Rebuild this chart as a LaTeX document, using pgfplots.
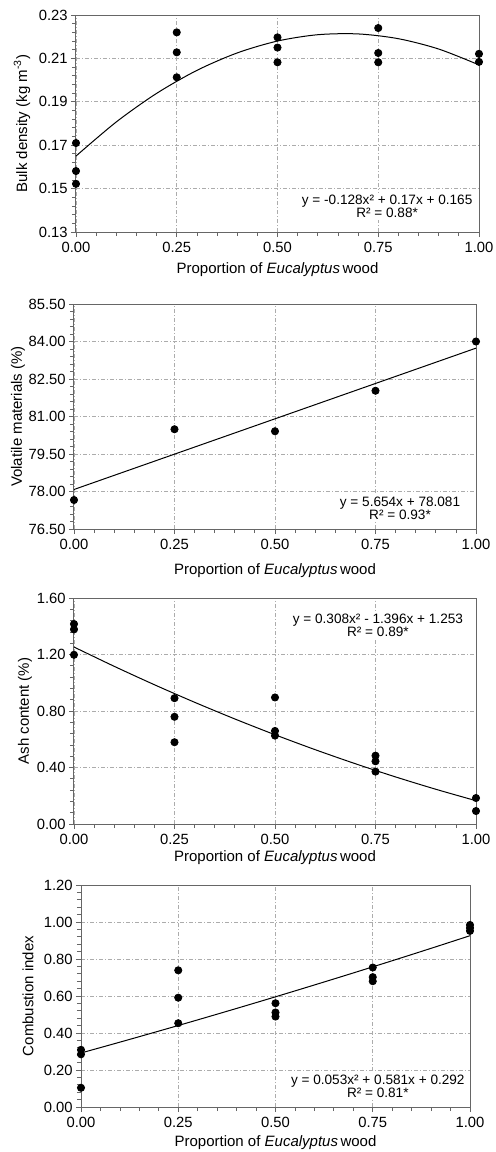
\documentclass[border=0pt]{standalone}
\usepackage{fontspec}
\setmainfont{Liberation Sans}
\usepackage{pgfplots}
\pgfplotsset{compat=1.18}
\begin{document}
\fontsize{7.5}{9}\selectfont
\begin{tikzpicture}
\path[use as bounding box] (0pt,0pt) rectangle (248pt,-576pt);
\tikzset{eq/.style={fill=white, inner sep=1pt, align=center, font=\fontsize{6.8}{6.5}\selectfont}}
\pgfplotsset{
  every axis/.append style={
    scale only axis,
    clip=false,
    anchor=south west,
    xmin=0, xmax=1,
    xtick={0,0.25,0.5,0.75,1},
    minor x tick num=4,
    minor y tick num=4,
    tick align=outside,
    xtick pos=bottom, ytick pos=left,
    major tick length=2.5pt, minor tick length=2pt,
    every tick/.style={gray!80!black, line width=0.4pt},
    axis line style={gray!80!black, line width=0.5pt},
    grid=major,
    major grid style={gray!65, line width=0.4pt, dash pattern=on 2pt off 1pt on 0.5pt off 1pt},
    ticklabel style={font=\fontsize{7.4}{8}\selectfont},
    yticklabel style={xshift=1pt},
    /pgf/number format/assume math mode=true,
    xticklabel style={/pgf/number format/.cd, fixed, fixed zerofill, precision=2},
    yticklabel style={/pgf/number format/.cd, fixed, fixed zerofill, precision=2},
  },
  pts/.style={only marks, mark=*, mark size=1.8pt, color=black},
  fit/.style={black, line width=0.5pt, no marks, smooth},
}
% Panel 1
\begin{axis}[at={(38pt,-116pt)}, width=201.5pt, height=108.5pt,
  ymin=0.13, ymax=0.23, ytick={0.13,0.15,0.17,0.19,0.21,0.23}]
\addplot[fit] coordinates {(0,0.165) (0.1,0.18072) (0.2,0.19388) (0.3,0.20448) (0.4,0.21252) (0.5,0.218) (0.6,0.22092) (0.7,0.22128) (0.8,0.21908) (0.9,0.21432) (1,0.207)};
\addplot[pts] coordinates {(0,0.1710) (0,0.1581) (0,0.1522) (0.25,0.2220) (0.25,0.2128) (0.25,0.2013) (0.5,0.2197) (0.5,0.2150) (0.5,0.2082) (0.75,0.2240) (0.75,0.2125) (0.75,0.2082) (1,0.2121) (1,0.2084)};
\node[eq] at (rel axis cs:0.772,0.1175) {y = -0.128x² + 0.17x + 0.165\\R² = 0.88*};
\node at ([yshift=-19pt]rel axis cs:0.5,0) {Proportion of \textit{Eucalyptus}\,wood};
\node[rotate=90] at ([xshift=-27pt]rel axis cs:0,0.5) {Bulk density (kg m\textsuperscript{-3})};
\end{axis}
% Panel 2
\begin{axis}[at={(37pt,-264.5pt)}, width=201pt, height=112.5pt,
  ymin=76.5, ymax=85.5, ytick={76.5,78,79.5,81,82.5,84,85.5}]
\addplot[fit] coordinates {(0,78.081) (1,83.735)};
\addplot[pts] coordinates {(0,77.66) (0.25,80.49) (0.5,80.41) (0.75,82.03) (1,84.00)};
\node[eq] at (rel axis cs:0.811,0.090) {y = 5.654x + 78.081\\R² = 0.93*};
\node at ([yshift=-21pt]rel axis cs:0.5,0) {Proportion of \textit{Eucalyptus}\,wood};
\node[rotate=90] at ([xshift=-28pt]rel axis cs:0,0.5) {Volatile materials (\%)};
\end{axis}
% Panel 3
\begin{axis}[at={(37pt,-412pt)}, width=201pt, height=113pt,
  ymin=0, ymax=1.6, ytick={0,0.4,0.8,1.2,1.6}]
\addplot[fit] coordinates {(0,1.253) (0.1,1.11648) (0.2,0.98612) (0.3,0.86192) (0.4,0.74388) (0.5,0.632) (0.6,0.52628) (0.7,0.42672) (0.8,0.33332) (0.9,0.24608) (1,0.165)};
\addplot[pts] coordinates {(0,1.416) (0,1.378) (0,1.198) (0.25,0.891) (0.25,0.759) (0.25,0.579) (0.5,0.896) (0.5,0.659) (0.5,0.626) (0.75,0.484) (0.75,0.444) (0.75,0.371) (1,0.184) (1,0.092)};
\node[eq] at (rel axis cs:0.756,0.881) {y = 0.308x² - 1.396x + 1.253\\R² = 0.89*};
\node at ([yshift=-17pt]rel axis cs:0.5,0) {Proportion of \textit{Eucalyptus}\,wood};
\node[rotate=90] at ([xshift=-24.5pt]rel axis cs:0,0.5) {Ash content (\%)};
\end{axis}
% Panel 4
\begin{axis}[at={(40.5pt,-553.5pt)}, width=194.5pt, height=111pt,
  ymin=0, ymax=1.2, ytick={0,0.2,0.4,0.6,0.8,1.0,1.2}]
\addplot[fit] coordinates {(0,0.292) (0.1,0.35063) (0.2,0.41032) (0.3,0.47107) (0.4,0.53288) (0.5,0.59575) (0.6,0.65968) (0.7,0.72467) (0.8,0.79072) (0.9,0.85783) (1,0.926)};
\addplot[pts] coordinates {(0,0.309) (0,0.285) (0,0.104) (0.25,0.739) (0.25,0.591) (0.25,0.453) (0.5,0.561) (0.5,0.511) (0.5,0.489) (0.75,0.754) (0.75,0.702) (0.75,0.680) (1,0.984) (1,0.968) (1,0.952)};
\node[eq] at (rel axis cs:0.763,0.092) {y = 0.053x² + 0.581x + 0.292\\R² = 0.81*};
\node at ([yshift=-18pt]rel axis cs:0.5,0) {Proportion of \textit{Eucalyptus}\,wood};
\node[rotate=90] at ([xshift=-26.5pt]rel axis cs:0,0.5) {Combustion index};
\end{axis}
\end{tikzpicture}
\end{document}
